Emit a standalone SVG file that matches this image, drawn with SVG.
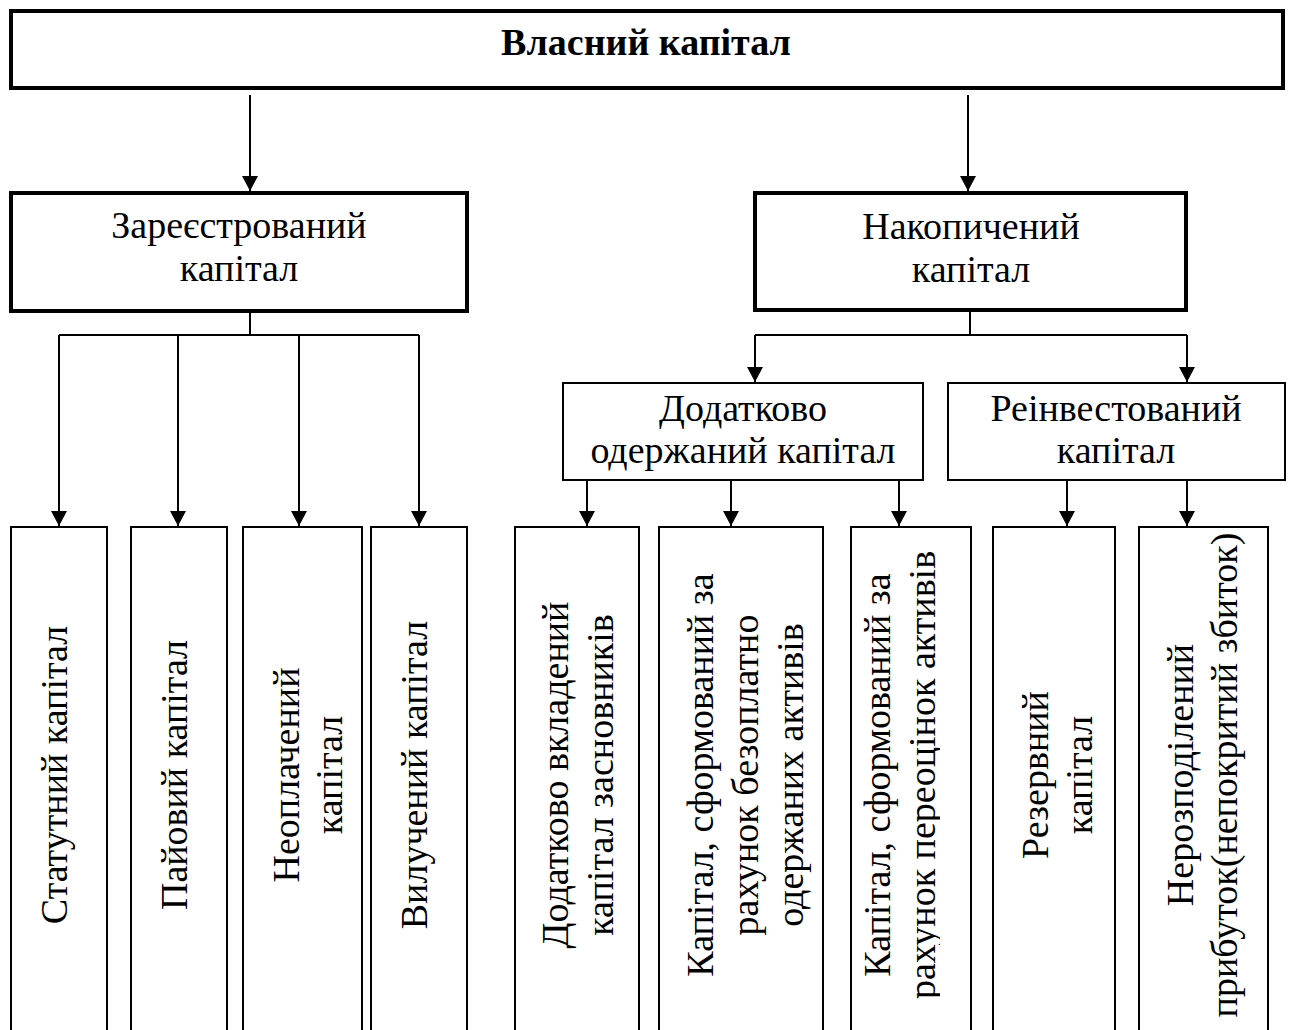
<svg xmlns="http://www.w3.org/2000/svg" width="1290" height="1030" viewBox="0 0 1290 1030">
<style>
text{font-family:"Liberation Serif","Times New Roman",serif;font-size:38px;fill:#000;text-anchor:middle}
.t{font-weight:bold}
.thick{fill:#fff;stroke:#000;stroke-width:4}
.thin{fill:#fff;stroke:#000;stroke-width:2}
.c{fill:none;stroke:#000;stroke-width:2}
</style>
<defs>
<marker id="arr" viewBox="0 0 15 16" refX="15" refY="8" markerWidth="15" markerHeight="16" orient="auto" markerUnits="userSpaceOnUse">
<path d="M0,0 L15,8 L0,16 z" fill="#000"/>
</marker>
<clipPath id="clip7" clipPathUnits="userSpaceOnUse"><rect x="851" y="527" width="89" height="503"/></clipPath>
</defs>
<rect width="1290" height="1030" fill="#fff"/>
<g id="connectors">
<path class="c" d="M250,95 V191" marker-end="url(#arr)"/>
<path class="c" d="M968,95 V191" marker-end="url(#arr)"/>
<path class="c" d="M250,311 V335 M59,335 H419"/>
<path class="c" d="M59,335 V526" marker-end="url(#arr)"/>
<path class="c" d="M178,335 V526" marker-end="url(#arr)"/>
<path class="c" d="M299,335 V526" marker-end="url(#arr)"/>
<path class="c" d="M419,335 V526" marker-end="url(#arr)"/>
<path class="c" d="M970,310 V335 M755,335 H1187"/>
<path class="c" d="M755,335 V382" marker-end="url(#arr)"/>
<path class="c" d="M1187,335 V382" marker-end="url(#arr)"/>
<path class="c" d="M587,480 V526" marker-end="url(#arr)"/>
<path class="c" d="M731,480 V526" marker-end="url(#arr)"/>
<path class="c" d="M899,480 V526" marker-end="url(#arr)"/>
<path class="c" d="M1067,480 V526" marker-end="url(#arr)"/>
<path class="c" d="M1187,480 V526" marker-end="url(#arr)"/>
</g>
<g id="n-vlasnyi">
<rect class="thick" x="11" y="11" width="1272" height="77"/>
<text class="t" x="646" y="55">Власний капітал</text>
</g>
<g id="n-zareestr">
<rect class="thick" x="11" y="193" width="456" height="118"/>
<text x="239" y="238">Зареєстрований</text>
<text x="239" y="281">капітал</text>
</g>
<g id="n-nakop">
<rect class="thick" x="755" y="193" width="431" height="117"/>
<text x="971" y="239">Накопичений</text>
<text x="971" y="282">капітал</text>
</g>
<g id="n-dodatk">
<rect class="thin" x="563" y="383" width="360" height="97"/>
<text x="743" y="421">Додатково</text>
<text x="743" y="463">одержаний капітал</text>
</g>
<g id="n-reinv">
<rect class="thin" x="948" y="383" width="337" height="97"/>
<text x="1116" y="421">Реінвестований</text>
<text x="1116" y="463">капітал</text>
</g>
<g id="n-statut">
<rect class="thin" x="11" y="527" width="96" height="515"/>
<text transform="translate(67,775) rotate(-90)">Статутний капітал</text>
</g>
<g id="n-paiovyi">
<rect class="thin" x="131" y="527" width="96" height="515"/>
<text transform="translate(187,775) rotate(-90)">Пайовий капітал</text>
</g>
<g id="n-neoplach">
<rect class="thin" x="243" y="527" width="119" height="515"/>
<text transform="translate(299,775) rotate(-90)"><tspan x="0" y="0">Неоплачений</tspan><tspan x="0" y="43">капітал</tspan></text>
</g>
<g id="n-vyluch">
<rect class="thin" x="371" y="527" width="96" height="515"/>
<text transform="translate(427,775) rotate(-90)">Вилучений капітал</text>
</g>
<g id="n-dod-vkl">
<rect class="thin" x="515" y="527" width="124" height="515"/>
<text transform="translate(568,775) rotate(-90)"><tspan x="0" y="0">Додатково вкладений</tspan><tspan x="0" y="45">капітал засновників</tspan></text>
</g>
<g id="n-bezopl">
<rect class="thin" x="659" y="527" width="164" height="515"/>
<text transform="translate(713,775) rotate(-90)"><tspan x="0" y="0">Капітал, сформований за</tspan><tspan x="0" y="45">рахунок безоплатно</tspan><tspan x="0" y="90">одержаних активів</tspan></text>
</g>
<g id="n-pereots">
<rect class="thin" x="851" y="527" width="120" height="515"/>
<g clip-path="url(#clip7)">
<text transform="translate(890,775) rotate(-90)"><tspan x="0" y="0">Капітал, сформований за</tspan><tspan x="0" y="45">рахунок переоцінок активів</tspan></text>
</g>
</g>
<g id="n-rezerv">
<rect class="thin" x="993" y="527" width="122" height="515"/>
<text transform="translate(1048,775) rotate(-90)"><tspan x="0" y="0">Резервний</tspan><tspan x="0" y="44">капітал</tspan></text>
</g>
<g id="n-nerozp">
<rect class="thin" x="1139" y="527" width="129" height="515"/>
<text transform="translate(1193,775) rotate(-90)"><tspan x="0" y="0">Нерозподілений</tspan><tspan x="0" y="44">прибуток(непокритий збиток)</tspan></text>
</g>
</svg>
